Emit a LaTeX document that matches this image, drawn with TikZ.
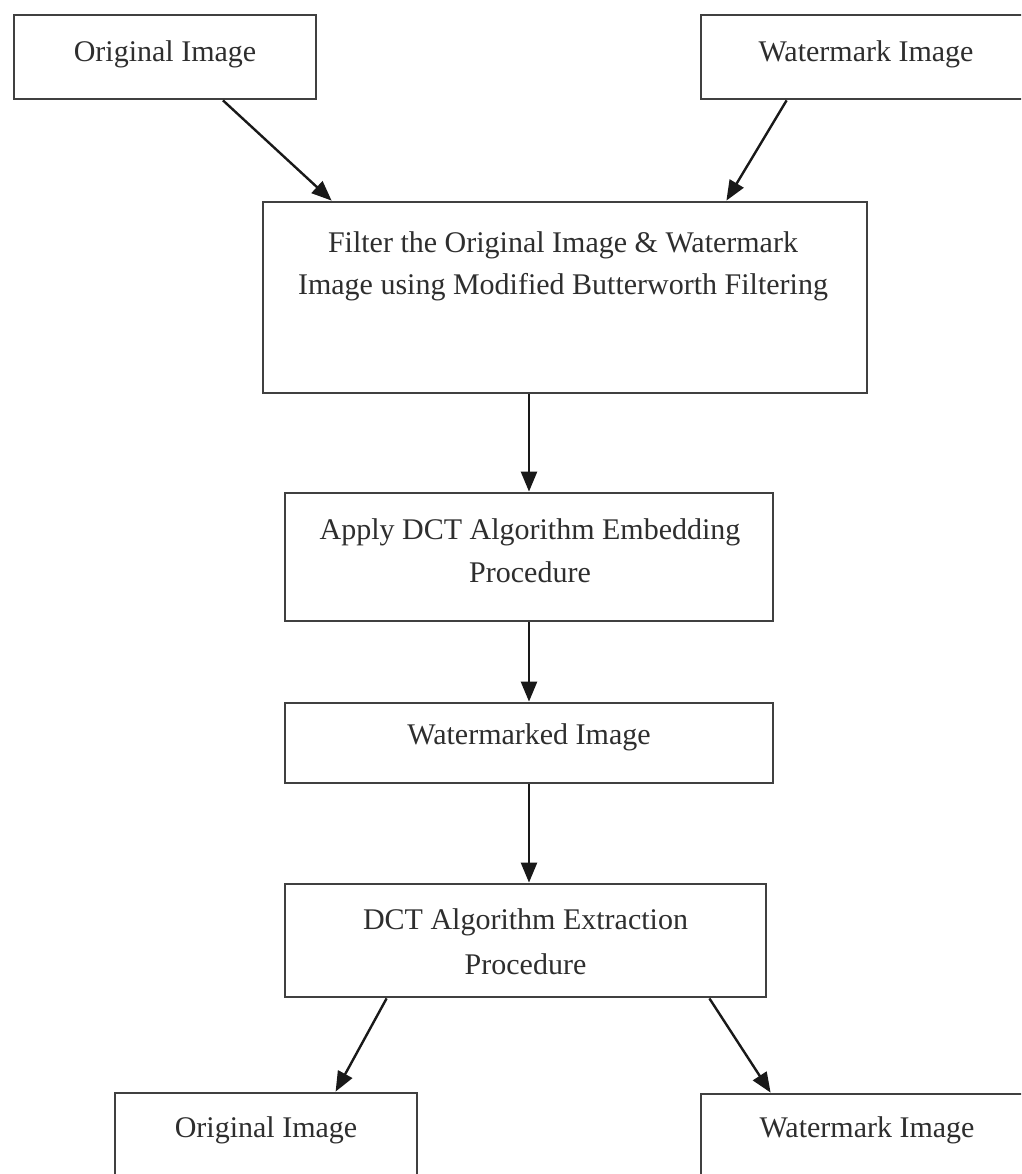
\documentclass[tikz,border=0pt]{standalone}
\usepackage{fontspec}
\setmainfont{Liberation Serif}
\usetikzlibrary{arrows.meta}
\begin{document}
\begin{tikzpicture}[x=1pt,y=-1pt,
  box/.style={draw=black!75, line width=2.8pt, fill=white, rectangle, inner sep=0pt},
  txt/.style={text=black!82, font=\fontsize{30}{42}\selectfont, align=center, inner sep=0pt},
  arr/.style={draw=black!90, line width=2.4pt, -{Triangle[length=20pt,width=16pt]}}]
\useasboundingbox (0,0) rectangle (1021,1174);
\clip (0,0) rectangle (1021,1174);
\fill[white] (0,0) rectangle (1021,1174);
% boxes
\node[box, minimum width=302pt, minimum height=84pt] (o1) at (165,57) {};
\node[box, minimum width=330pt, minimum height=84pt] (w1) at (866,57) {};
\node[box, minimum width=604pt, minimum height=191pt] (f) at (565,297.5) {};
\node[box, minimum width=488pt, minimum height=128pt] (a) at (529,557) {};
\node[box, minimum width=488pt, minimum height=80pt] (wm) at (529,743) {};
\node[box, minimum width=481pt, minimum height=113pt] (d) at (525.5,940.5) {};
\node[box, minimum width=302pt, minimum height=84pt] (o2) at (266,1135) {};
\node[box, minimum width=330pt, minimum height=84pt] (w2) at (866,1136) {};
% texts
\node[txt] (to1) at (165,54) {Original Image};
\node[txt] (tw1) at (866,54) {Watermark Image};
\node[txt] (tf1) at (563,245) {Filter the Original Image \& Watermark};
\node[txt] (tf2) at (563,287) {Image using Modified Butterworth Filtering};
\node[txt] (ta1) at (530,532) {Apply DCT Algorithm Embedding};
\node[txt] (ta2) at (530,572) {Procedure};
\node[txt] (twm) at (529,737) {Watermarked Image};
\node[txt] (td1) at (525.5,922) {DCT Algorithm Extraction};
\node[txt] (td2) at (525.5,964) {Procedure};
\node[txt] (to2) at (266,1130) {Original Image};
\node[txt] (tw2) at (867,1130) {Watermark Image};
% connectors
\draw[arr] ([xshift=58pt]o1.south) -- ([xshift=70pt]f.north west);
\draw[arr] ([xshift=87pt]w1.south west) -- ([xshift=-142pt]f.north east);
\draw[arr] (f.south -| a.north) -- (a.north);
\draw[arr] (a.south) -- (wm.north);
\draw[arr] (wm.south) -- (wm.south |- d.north);
\draw[arr] ([xshift=103pt]d.south west) -- ([xshift=222pt]o2.north west);
\draw[arr] ([xshift=-58pt]d.south east) -- ([xshift=71pt]w2.north west);
\end{tikzpicture}
\end{document}
